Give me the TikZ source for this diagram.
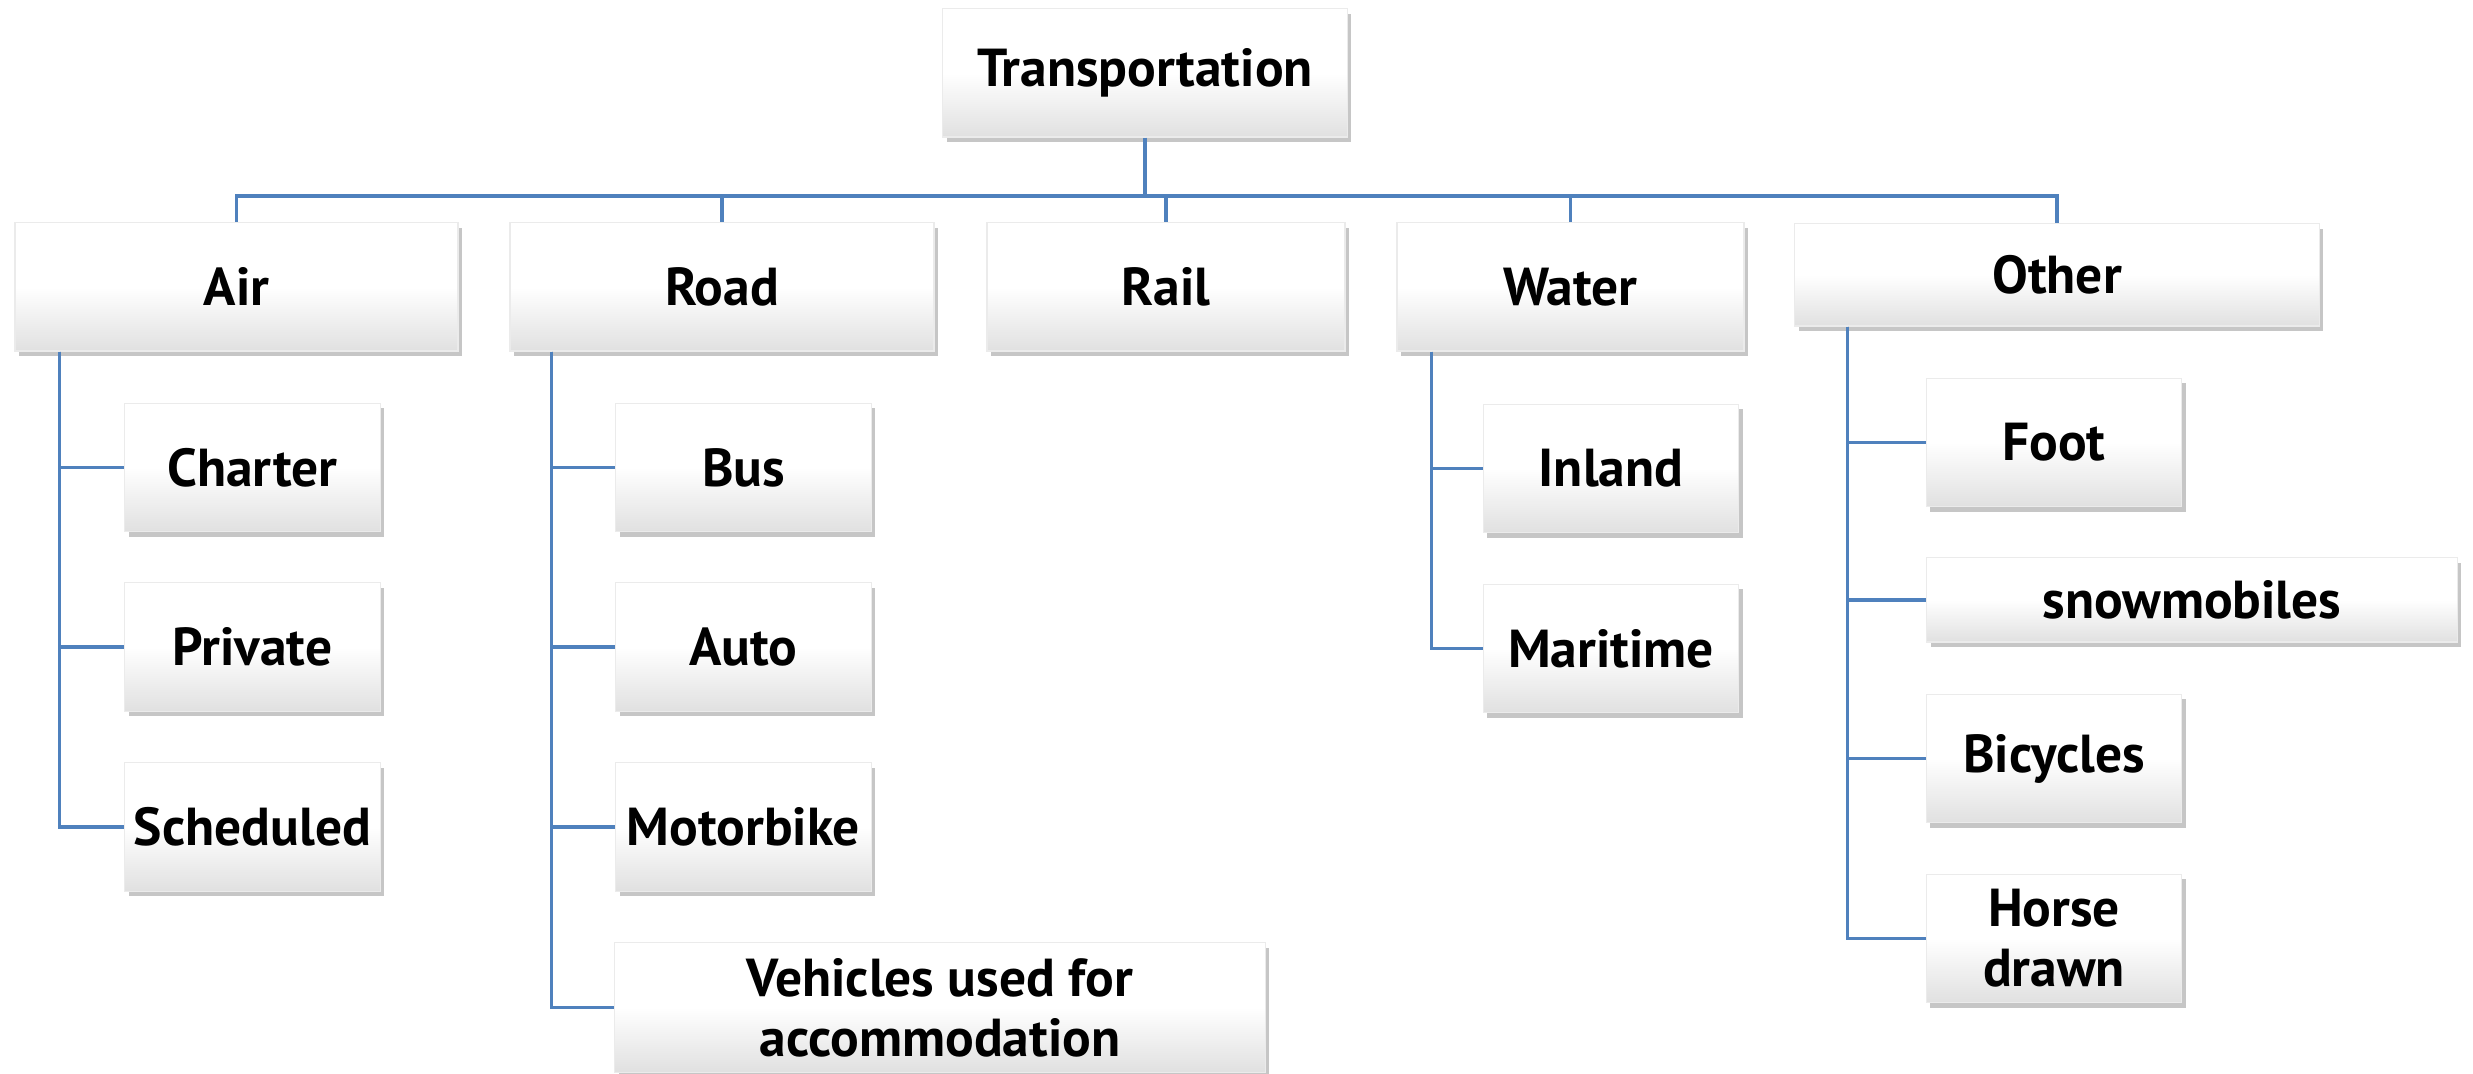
\documentclass[tikz,border=0pt]{standalone}
\usepackage{fontspec}
\setmainfont{PT Sans}
\usepackage{tikz}
\usetikzlibrary{shadows}
\usetikzlibrary{positioning}
\usetikzlibrary{calc}
\definecolor{linkblue}{RGB}{79,129,189}
\tikzstyle{tbox}=[rectangle,draw=black!8,line width=0.3pt,top color=white,bottom color=black!12,middle color=white,
  drop shadow={shadow xshift=0.04cm,shadow yshift=-0.05cm,opacity=0.45},
  inner sep=0pt,align=center,font=\fontsize{15.2}{17}\selectfont\bfseries]
\tikzstyle{catbox}=[tbox,minimum height=1.28cm]
\tikzstyle{subbox}=[tbox,minimum width=2.55cm,minimum height=1.28cm]
\tikzstyle{link}=[draw=linkblue,line width=1.05pt]

\begin{document}
\begin{tikzpicture}[x=0.01cm,y=-0.01cm]
\useasboundingbox (0,0) rectangle (2473,1074);

%top
\node[catbox,minimum width=4.04cm] (trans) at (1145,73) {Transportation};

%categories
  \foreach \pos/\name/\w/\label in {{(236.5,287)/air/443/Air}, {(722,287)/road/424/Road}, {(1166,287)/rail/358/Rail},
      {(1570.5,287)/water/347/Water}}
      \node[catbox,minimum width=\w*0.01cm] (\name) at \pos {\label};
\node[catbox,minimum width=5.24cm,minimum height=1.02cm] (other) at (2057,275) {Other};

\coordinate (bus) at (1145,196);
\draw[link] (trans.south) -- (bus);
  \foreach \name in {air,road,rail,water,other}
      \draw[link] (bus) -| (\name.north);

%Air
  \foreach \pos/\name/\label in {{(252.5,467.5)/charter/Charter}, {(252.5,647)/private/Private}, {(252.5,827)/sched/Scheduled}}
      \node[subbox] (\name) at \pos {\label};

%Road
  \foreach \pos/\name/\label in {{(743.5,467.5)/bus1/Bus}, {(743.5,647)/auto/Auto}, {(743.5,827)/motor/Motorbike}}
      \node[subbox] (\name) at \pos {\label};
\node[subbox,minimum width=6.5cm,minimum height=1.29cm] (vehicles) at (940,1007.5) {Vehicles used for\\accommodation};

%Water
  \foreach \pos/\name/\label in {{(1611,468.5)/inland/Inland}, {(1611,648.5)/maritime/Maritime}}
      \node[subbox] (\name) at \pos {\label};

%Other
  \foreach \pos/\name/\label in {{(2054,442.5)/foot/Foot}, {(2054,758.5)/bicycles/Bicycles}, {(2054,938.5)/horse/Horse\\drawn}}
      \node[subbox] (\name) at \pos {\label};
\node[subbox,minimum width=5.3cm,minimum height=0.84cm] (snow) at (2192,600) {snowmobiles};

%spines
  \foreach \parent/\dx/\child in {air/45/charter, air/45/private, air/45/sched,
      road/42/bus1, road/42/auto, road/42/motor, road/42/vehicles,
      water/35/inland, water/35/maritime,
      other/53/foot, other/53/snow, other/53/bicycles, other/53/horse}
      \draw[link] ($(\parent.south west)+(\dx,0)$) |- (\child.west);

\end{tikzpicture}
\end{document}
